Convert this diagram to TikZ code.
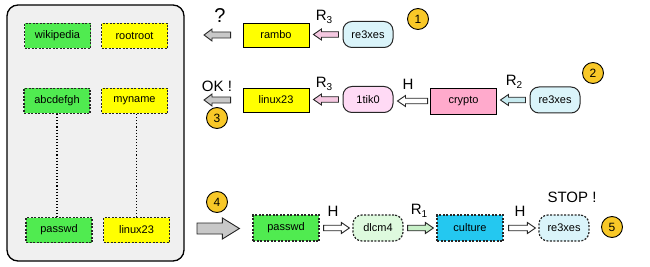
\documentclass[tikz,border=0pt]{standalone}
\usepackage{fontspec}
\setmainfont{Liberation Sans}
\usetikzlibrary{calc}
\definecolor{boxgray}{RGB}{240,240,240}
\definecolor{pgreen}{RGB}{80,235,80}
\definecolor{pyellow}{RGB}{255,255,0}
\definecolor{ppink}{RGB}{255,170,204}
\definecolor{plpink}{RGB}{255,218,245}
\definecolor{plblue}{RGB}{218,244,250}
\definecolor{pcyan}{RGB}{36,200,240}
\definecolor{plgreen}{RGB}{222,250,222}
\definecolor{apink}{RGB}{245,200,225}
\definecolor{ablue}{RGB}{200,235,240}
\definecolor{agreen}{RGB}{200,240,200}
\definecolor{agray}{RGB}{200,200,200}
\definecolor{gold}{RGB}{248,200,40}
\newcommand\blockarr[6]{%
  \draw[#1] let \p1=#2, \p2=#3, \n1={ifthenelse(\x2>\x1,1,-1)} in
  (\x1,{\y1+#4}) -- ({\x2-\n1*#6},{\y1+#4}) -- ({\x2-\n1*#6},{\y1+#5}) -- (\x2,\y1)
  -- ({\x2-\n1*#6},{\y1-#5}) -- ({\x2-\n1*#6},{\y1-#4}) -- (\x1,{\y1-#4}) -- cycle;}
\newcommand\sub[1]{\raisebox{-0.3ex}{\fontsize{10}{10}\selectfont #1}}
\tikzset{
  base/.style={minimum width=66pt, minimum height=25pt, inner sep=0pt,
    font=\fontsize{11}{12}\selectfont},
  solidbox/.style={base, draw=black, line width=0.9pt},
  dashbox/.style={base, draw=black!85, line width=1.2pt, dash pattern=on 2pt off 1.5pt},
  roundbox/.style={base, minimum width=50pt, minimum height=26pt, rounded corners=9pt,
    draw=black!85, line width=1pt},
  rounddash/.style={roundbox, line width=1.2pt, dash pattern=on 2pt off 1.5pt},
  lbl/.style={font=\fontsize{15}{16}\selectfont, inner sep=0pt},
  num/.style={circle, draw=black, fill=gold, minimum size=21pt, inner sep=0pt,
    line width=0.9pt, font=\fontsize{12}{12}\selectfont},
  arr/.style={draw=black!85, line width=0.9pt, line join=miter},
}
\begin{document}
\begin{tikzpicture}[x=1pt,y=-1pt]
\useasboundingbox (0,0) rectangle (650,267);
% left panel
\node[draw=black, rounded corners=11pt, fill=boxgray, line width=1.3pt,
  minimum width=177pt, minimum height=256pt, inner sep=0pt] (panel) at (95.5,133) {};
\node[dashbox, fill=pgreen] (wiki) at (57.5,36) {wikipedia};
\node[dashbox, fill=pyellow] (root) at (134.5,36) {rootroot};
\node[dashbox, fill=pgreen] (abc) at (57,101) {abcdefgh};
\node[dashbox, fill=pyellow] (myn) at (134.5,101) {myname};
\node[dashbox, fill=pgreen] (pw) at (59,230) {passwd};
\node[dashbox, fill=pyellow] (lx) at (136.5,230) {linux23};
\draw[dotted, line width=1.1pt] (abc.south) -- (abc.south |- pw.north);
\draw[dotted, line width=1.1pt] (lx.north |- myn.south) -- (lx.north);
% row 1
\node[solidbox, fill=pyellow, minimum height=24pt] (rambo) at (276,35) {rambo};
\node[roundbox, fill=plblue] (re1) at (368,34.5) {re3xes};
\coordinate (q1) at (204,35);
\blockarr{arr, fill=apink}{($(re1.west)+(-4,0)$)}{($(rambo.east)+(4,0)$)}{2.75pt}{5.5pt}{8pt}
\blockarr{arr, fill=agray}{($(rambo.west)+(-12,0)$)}{(q1)}{3pt}{6pt}{8pt}
\node[font=\fontsize{20}{20}\selectfont, inner sep=0pt] (qm) at (220,16) {?};
\node[lbl] (r3a) at (324,17) {R\sub{3}};
\node[num] (n1) at (418,19) {1};
% row 2
\node[solidbox, fill=pyellow, minimum height=24pt] (lx2) at (276,100) {linux23};
\node[roundbox, fill=plpink] (tik) at (368,99.5) {1tik0};
\node[solidbox, fill=ppink, minimum height=26pt] (crypto) at (463.5,101) {crypto};
\node[roundbox, fill=plblue] (re2) at (555,100) {re3xes};
\coordinate (q2) at (204,100);
\blockarr{arr, fill=apink}{($(tik.west)+(-4,0)$)}{($(lx2.east)+(4,0)$)}{2.75pt}{5.5pt}{8pt}
\blockarr{arr, fill=white}{($(crypto.west)+(-2.5,0)$)}{($(tik.east)+(4,0)$)}{2.75pt}{5.5pt}{8pt}
\blockarr{arr, fill=ablue}{($(re2.west)+(-4,0)$)}{($(crypto.east)+(3.5,0)$)}{2.75pt}{5.5pt}{8pt}
\blockarr{arr, fill=agray}{($(lx2.west)+(-12,0)$)}{(q2)}{3pt}{6pt}{8pt}
\node[lbl] (ok) at (217,86) {OK !};
\node[lbl] (r3b) at (324,84) {R\sub{3}};
\node[lbl] (h1) at (408,84) {H};
\node[lbl] (r2) at (514,82) {R\sub{2}};
\node[num] (n2) at (593,73) {2};
\node[num] (n3) at (217,118) {3};
% row 3
\node[dashbox, fill=pgreen, minimum height=26pt] (pw2) at (286,228) {passwd};
\node[rounddash, fill=plgreen] (dl) at (378,228) {dlcm4};
\node[dashbox, fill=pcyan, minimum height=26pt] (cul) at (470,228) {culture};
\node[rounddash, fill=plblue] (re3) at (564,228) {re3xes};
\coordinate (q3) at (197,228.5);
\blockarr{arr, fill=agray}{(q3)}{($(pw2.west)+(-13,0)$)}{5.5pt}{10.5pt}{17pt}
\blockarr{arr, fill=white}{($(pw2.east)+(4,0)$)}{($(dl.west)+(-3,0)$)}{2.75pt}{5.5pt}{8pt}
\blockarr{arr, fill=agreen}{($(dl.east)+(4,0)$)}{($(cul.west)+(-3,0)$)}{2.75pt}{5.5pt}{8pt}
\blockarr{arr, fill=white}{($(cul.east)+(5,0)$)}{($(re3.west)+(-3,0)$)}{2.75pt}{5.5pt}{8pt}
\node[lbl] (h2) at (333,211) {H};
\node[lbl] (r1) at (419,211) {R\sub{1}};
\node[lbl] (h3) at (520,211) {H};
\node[lbl] (stop) at (572,197) {STOP !};
\node[num] (n4) at (217,202) {4};
\node[num] (n5) at (612,227) {5};
\end{tikzpicture}
\end{document}
